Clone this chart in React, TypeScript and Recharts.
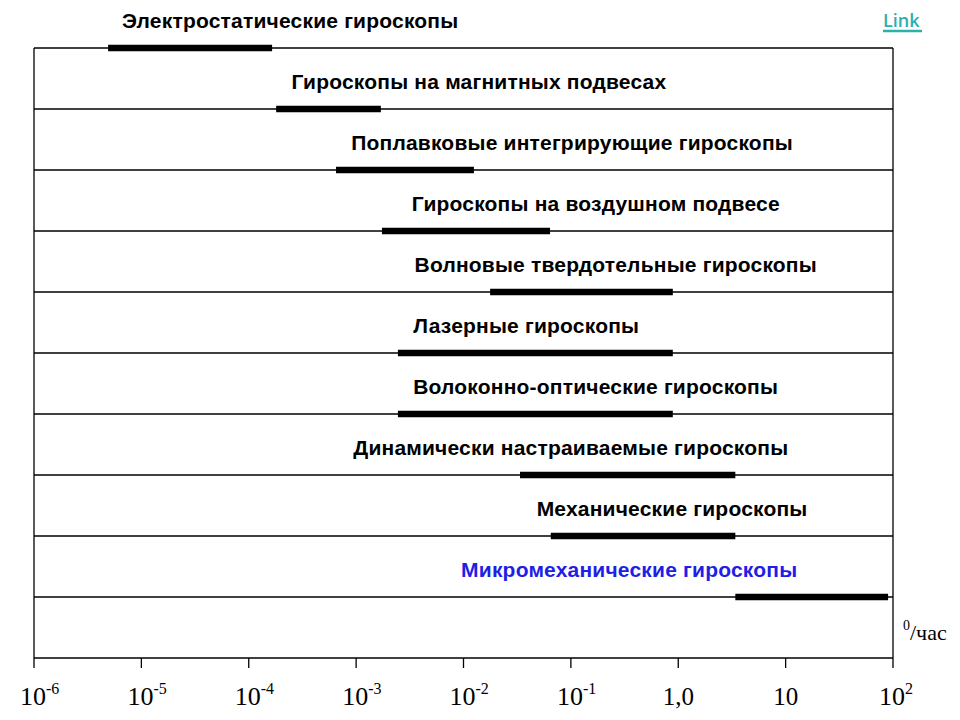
import React from 'react';
import { LineChart, Line, XAxis, YAxis, ReferenceLine, ReferenceDot } from 'recharts';

// Gyroscope types, top to bottom
const gyroNames = [
  'Электростатические гироскопы',
  'Гироскопы на магнитных подвесах',
  'Поплавковые интегрирующие гироскопы',
  'Гироскопы на воздушном подвесе',
  'Волновые твердотельные гироскопы',
  'Лазерные гироскопы',
  'Волоконно-оптические гироскопы',
  'Динамически настраиваемые гироскопы',
  'Механические гироскопы',
  'Микромеханические гироскопы',
];

// drift range, °/час
const driftFrom = [4.9e-6, 1.8e-4, 6.5e-4, 1.74e-3, 1.77e-2, 2.45e-3, 2.45e-3, 3.36e-2, 6.5e-2, 3.4];
const driftTo = [1.65e-4, 1.7e-3, 1.25e-2, 6.4e-2, 0.89, 0.89, 0.89, 3.4, 3.4, 90];

// where each caption starts, °/час
const captionFrom = [6.6e-6, 2.5e-4, 9.0e-4, 3.3e-3, 3.5e-3, 3.4e-3, 3.4e-3, 9.4e-4, 4.8e-2, 9.5e-3];

const xTicks = [1e-6, 1e-5, 1e-4, 1e-3, 1e-2, 1e-1, 1, 10, 100];
const xTickBase = ['10', '10', '10', '10', '10', '10', '1,0', '10', '10'];
const xTickExp = ['-6', '-5', '-4', '-3', '-2', '-1', '', '', '2'];

const serif = '"Liberation Serif", "Times New Roman", serif';
const sans = '"Liberation Sans", Arial, sans-serif';

const LogTick = (props: any) => {
  const { x, y, payload } = props;
  const i = xTicks.indexOf(payload.value);
  const base = xTickBase[i];
  const exp = xTickExp[i];
  if (!exp) {
    return (
      <text x={x} y={y} dy={35} textAnchor="middle" fontFamily={serif} fontSize={25} fill="#000">
        {base}
      </text>
    );
  }
  return (
    <text x={x - 14} y={y} dy={35} textAnchor="start" fontFamily={serif} fontSize={26} fill="#000">
      {base}
      <tspan dy={-11} fontSize={16}>{exp}</tspan>
    </text>
  );
};

const caption = (text: string, color: string) => (p: any) => (
  <text
    x={p.viewBox.x}
    y={p.viewBox.y - 20}
    fontFamily={sans}
    fontWeight="bold"
    fontSize={21}
    letterSpacing={0.2}
    fill={color}
  >
    {text}
  </text>
);

export default function App() {
  const rows = gyroNames.map((name, i) => ({
    name,
    row: gyroNames.length - i,
    data: [
      { x: driftFrom[i], y: gyroNames.length - i },
      { x: driftTo[i], y: gyroNames.length - i },
    ],
  }));

  return (
    <div style={{ position: 'absolute', left: 0, top: 0, width: 960, height: 720, background: '#fff' }}>
      <LineChart width={960} height={720} margin={{ top: 48, right: 67, left: 34, bottom: 0 }}>
        <XAxis
          dataKey="x"
          type="number"
          scale="log"
          domain={[1e-6, 100]}
          ticks={xTicks}
          allowDataOverflow
          height={62}
          tickSize={10}
          axisLine={{ stroke: '#000', strokeWidth: 1.3 }}
          tickLine={{ stroke: '#000', strokeWidth: 1.3 }}
          tick={<LogTick />}
          interval={0}
        />
        <YAxis dataKey="y" type="number" domain={[0, 10]} hide />
        <ReferenceLine x={1e-6} stroke="#000" strokeWidth={1.3} />
        <ReferenceLine x={100} stroke="#000" strokeWidth={1.3} />
        {rows.map((r) => (
          <ReferenceLine key={'g' + r.row} y={r.row} stroke="#000" strokeWidth={1.5} />
        ))}
        {rows.map((r) => (
          <Line
            key={r.name}
            data={r.data}
            dataKey="y"
            type="linear"
            stroke="#000"
            strokeWidth={6.5}
            dot={false}
            activeDot={false}
            isAnimationActive={false}
          />
        ))}
        {rows.map((r, i) => (
          <ReferenceDot
            key={'c' + r.row}
            x={captionFrom[i]}
            y={r.row}
            r={0}
            fill="none"
            stroke="none"
            label={caption(r.name, i === rows.length - 1 ? '#1e1ee6' : '#000')}
          />
        ))}
      </LineChart>
      <svg width={960} height={720} style={{ position: 'absolute', left: 0, top: 0, pointerEvents: 'none' }}>
        <text x={883} y={27} fontFamily='"Open Sans", sans-serif' fontSize={18} fontWeight={600} fill="#2bb0ac">
          Link
        </text>
        <line x1={883} y1={31} x2={922} y2={31} stroke="#2bb0ac" strokeWidth={2.5} />
        <text x={903} y={640} fontFamily={serif} fontSize={22} fill="#000">
          <tspan fontSize={14} dy={-10}>0</tspan>
          <tspan dy={10}>/час</tspan>
        </text>
      </svg>
    </div>
  );
}
